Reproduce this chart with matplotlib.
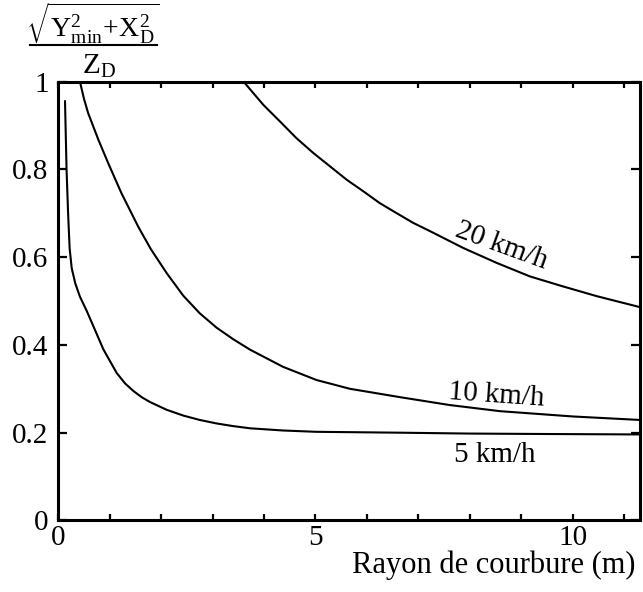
import matplotlib
matplotlib.use("Agg")
import matplotlib.pyplot as plt
from matplotlib.lines import Line2D
from matplotlib.ticker import MultipleLocator, FixedLocator, FixedFormatter

plt.rcParams['font.family'] = ['Liberation Serif', 'DejaVu Serif']
plt.rcParams['mathtext.fontset'] = 'custom'
plt.rcParams['mathtext.rm'] = 'Liberation Serif'
plt.rcParams['mathtext.it'] = 'Liberation Serif:italic'

# values (rayon de courbure -> ratio)
r_5 = [0.13, 0.16, 0.19, 0.22, 0.26, 0.33, 0.42, 0.55, 0.68, 0.875, 1.135, 1.30, 1.46, 1.62,
       1.78, 2.11, 2.43, 2.75, 3.08, 3.40, 3.73, 4.37, 5.02, 6.64, 8.0, 9.5, 11.31]
v_5 = [0.955, 0.80, 0.70, 0.62, 0.575, 0.54, 0.51, 0.478, 0.443, 0.39, 0.336, 0.312, 0.295, 0.281,
       0.270, 0.252, 0.239, 0.229, 0.221, 0.215, 0.210, 0.205, 0.202, 0.200, 0.198, 0.197, 0.196]

r_10 = [0.42, 0.50, 0.58, 0.78, 0.97, 1.23, 1.555, 1.80, 2.11, 2.43, 2.75, 3.08, 3.40,
        3.73, 4.37, 5.02, 5.67, 6.64, 7.61, 8.59, 10.0, 11.31]
v_10 = [1.0, 0.96, 0.928, 0.867, 0.814, 0.745, 0.669, 0.618, 0.563, 0.512, 0.472, 0.439, 0.413,
        0.389, 0.350, 0.320, 0.300, 0.281, 0.263, 0.249, 0.237, 0.229]

r_20 = [3.60, 3.985, 4.31, 4.63, 4.96, 5.28, 5.61, 5.93, 6.25, 6.58, 6.90, 7.23, 7.55,
        7.87, 8.52, 9.17, 9.82, 10.47, 11.31]
v_20 = [1.0, 0.947, 0.909, 0.871, 0.837, 0.807, 0.776, 0.750, 0.723, 0.700, 0.678, 0.659, 0.640,
        0.621, 0.587, 0.556, 0.533, 0.511, 0.486]

y_ticks = [0, 0.2, 0.4, 0.6, 0.8, 1.0]
y_labels = ['0', '0.2', '0.4', '0.6', '0.8', '1']

W, H = 643, 592
fig = plt.figure(figsize=(W / 100, H / 100), dpi=100)
ax = fig.add_axes([0.0907, 0.1208, 0.9046, 0.7415])

for r, v in [(r_5, v_5), (r_10, v_10), (r_20, v_20)]:
    ax.plot(r, v, color='black', lw=1.5, solid_joinstyle='round')

ax.set_xlim(0, 11.31)
ax.set_ylim(0, 1)

ax.xaxis.set_major_locator(FixedLocator([0, 5, 10]))
ax.xaxis.set_minor_locator(MultipleLocator(1))
ax.yaxis.set_major_locator(FixedLocator(y_ticks))
ax.yaxis.set_major_formatter(FixedFormatter(y_labels))

ax.tick_params(which='both', direction='in', top=True, right=True, width=1.6,
               labelsize=21, color='black')
ax.tick_params(axis='x', which='both', length=4.5, pad=3)
ax.tick_params(axis='y', which='both', length=6.5, pad=7)
for s in ax.spines.values():
    s.set_linewidth(2.2)

fig.text(0.9876, 0.032, 'Rayon de courbure (m)', fontsize=22, ha='right', va='baseline')

ax.text(8.62, 0.626, '20 km/h', fontsize=21, ha='center', va='center', rotation=-20)
ax.text(8.51, 0.286, '10 km/h', fontsize=21, ha='center', va='center', rotation=-4)
ax.text(8.49, 0.149, '5 km/h', fontsize=21, ha='center', va='center')

# y label as a stacked fraction above the axes
fig.text(93 / W, 1 - 38 / H,
         r'$\sqrt{\mathrm{Y}_{\mathrm{min}}^{2}\!+\!\mathrm{X}_{\mathrm{D}}^{2}}$',
         fontsize=20, ha='center', va='baseline')
fig.add_artist(Line2D([30 / W, 157 / W], [1 - 45 / H, 1 - 45 / H],
                      transform=fig.transFigure, color='black', lw=1.5))
fig.text(99 / W, 1 - 74 / H, r'Z$_{\mathrm{D}}$', fontsize=21, ha='center', va='baseline')

fig.savefig('out.png', dpi=100)
